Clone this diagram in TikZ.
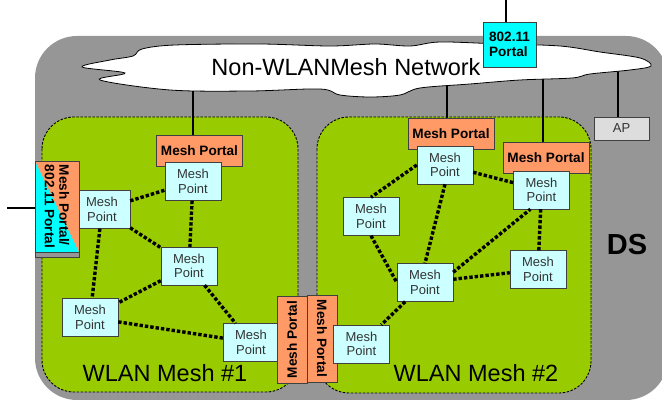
\documentclass[tikz,border=0pt]{standalone}
\usepackage{fontspec}
\setmainfont{Liberation Sans}

\definecolor{dsgray}{HTML}{969696}
\definecolor{meshgreen}{HTML}{99CC00}
\definecolor{portalorange}{HTML}{FF9966}
\definecolor{pointcyan}{HTML}{CCFFFF}
\definecolor{wificyan}{HTML}{00FFFF}
\definecolor{apgray}{HTML}{DDDDDD}

\newcommand{\boxfont}{\fontsize{13}{14.5}\selectfont}
\newcommand{\portfont}{\fontsize{13.6}{14.5}\selectfont\bfseries}

\begin{document}
\begin{tikzpicture}[x=1pt, y=-1pt,
	meshpoint/.style={draw=black!75, fill=pointcyan, minimum width=56pt, minimum height=38pt, inner sep=0pt, align=center, font=\boxfont, text=black!80},
	meshportal/.style={draw=black!75, fill=portalorange, minimum width=86pt, minimum height=31pt, inner sep=0pt, font=\portfont},
	meshlink/.style={line width=3.4pt, dash pattern=on 3.4pt off 2pt},
	uplink/.style={line width=1.4pt},
	meshzone/.style={fill=meshgreen, draw=black, line width=0.9pt, dash pattern=on 2.5pt off 1.5pt, rounded corners=32pt}]

		\useasboundingbox (0,0) rectangle (662,403);
		\clip (0,0) rectangle (662,403);

		% Draw the DS box
		\fill[dsgray, rounded corners=42pt] (35,36) rectangle (668,400);
		\node[font=\fontsize{29}{29}\selectfont\bfseries] (ds) at (627,245) {DS};

		% Draw the two mesh areas
		\draw[meshzone] (42,117) rectangle (298,392);
		\draw[meshzone] (317,117) rectangle (591,393);
		\node[font=\fontsize{23.5}{24}\selectfont] (zone1) at (165,373) {WLAN Mesh \#1};
		\node[font=\fontsize{23.5}{24}\selectfont] (zone2) at (476,373) {WLAN Mesh \#2};

		% Draw the portals hanging from the cloud
		\node[meshportal] (portA) at (199.5,151) {Mesh Portal};
		\node[meshportal] (portB) at (451,133.5) {Mesh Portal};
		\node[meshportal] (portC) at (546,158) {Mesh Portal};

		% Draw the mesh points of mesh #1
		\node[meshpoint] (mpA) at (193,181.5) {Mesh\\Point};
		\node[meshpoint] (mpB) at (102,209.5) {Mesh\\Point};
		\node[meshpoint] (mpC) at (189,266) {Mesh\\Point};
		\node[meshpoint] (mpD) at (90,317.5) {Mesh\\Point};
		\node[meshpoint] (mpE) at (251,342.5) {Mesh\\Point};

		% Draw the left portal to the 802.11 side
		\node[draw=black!75, fill=wificyan, minimum width=44pt, minimum height=91pt, inner sep=0pt,
			path picture={\fill[portalorange] (path picture bounding box.north west) -- (path picture bounding box.north east) -- (path picture bounding box.south east) -- cycle;}] (portL) at (57,206.5) {};
		\node[draw=black!75, fill=dsgray, minimum width=44pt, minimum height=5pt, inner sep=0pt] (portLbase) at (57,254.5) {};
		\node[rotate=-90, align=left, font=\portfont] (portLtext) at (portL) {Mesh Portal/\\802.11 Portal};
		\coordinate (wire) at (7,208);
		\draw[uplink] (wire) -- (wire -| portL.west);

		% Draw the two portals between the meshes
		\node[meshportal, rotate=90, minimum width=87pt, minimum height=30pt] (portD) at (292,339.5) {Mesh Portal};
		\node[meshportal, rotate=-90, minimum width=87pt, minimum height=30pt] (portE) at (322,338.5) {Mesh Portal};

		% Draw the mesh points of mesh #2
		\node[meshpoint] (mpF) at (361.5,344) {Mesh\\Point};
		\node[meshpoint] (mpG) at (425,282.5) {Mesh\\Point};
		\node[meshpoint] (mpH) at (538,269.5) {Mesh\\Point};
		\node[meshpoint] (mpI) at (371,216.5) {Mesh\\Point};
		\node[meshpoint] (mpJ) at (445,165) {Mesh\\Point};
		\node[meshpoint] (mpK) at (541.5,190) {Mesh\\Point};

		% Draw the mesh links
		\draw[meshlink] (mpB) -- (mpA);
		\draw[meshlink] (mpA) -- (mpC);
		\draw[meshlink] (mpB) -- (mpC);
		\draw[meshlink] (mpB) -- (mpD);
		\draw[meshlink] (mpC) -- (mpD);
		\draw[meshlink] (mpC) -- (mpE);
		\draw[meshlink] (mpD) -- (mpE);

		\draw[meshlink] (mpJ.west) -- (mpI.north);
		\draw[meshlink] (mpJ) -- (mpK);
		\draw[meshlink] (mpJ.south) -- (mpG.north);
		\draw[meshlink] (mpI.south) -- (mpG.west);
		\draw[meshlink] (mpG.20) -- (mpK.240);
		\draw[meshlink] (mpK) -- (mpH);
		\draw[meshlink] (mpG) -- (mpH);
		\draw[meshlink] (mpG) -- (mpF);

		% Draw the AP
		\node[draw=black!75, fill=apgray, minimum width=55pt, minimum height=23pt, inner sep=0pt, font=\boxfont, text=black!80] (ap) at (621.5,128.5) {AP};

		% Draw the wires up into the cloud
		\coordinate (cA) at (193,75);
		\coordinate (cB) at (447,75);
		\coordinate (cC) at (543,70);
		\coordinate (cAP) at (618,65);
		\draw[uplink] (cA) -- (cA |- portA.north);
		\draw[uplink] (cB) -- (cB |- portB.north);
		\draw[uplink] (cC) -- (cC |- portC.north);
		\draw[uplink] (cAP) -- (cAP |- ap.north);

		% Draw the cloud
		\draw[fill=white, line width=0.8pt] plot[smooth cycle, tension=0.55] coordinates {
			(82,67) (110,60) (133,56) (142,49) (175,45) (260,44) (330,46) (375,44)
			(410,46) (440,42) (500,44) (560,46) (600,52) (640,58) (651,66) (630,70)
			(590,74) (572,78) (520,80) (470,84) (420,88) (400,95) (370,97) (340,95)
			(320,89) (250,91) (170,90) (100,80) (125,73)};
		\node[font=\fontsize{23.5}{24}\selectfont] (cloudlbl) at (346,67) {Non-WLANMesh Network};

		% Draw the 802.11 portal on the cloud
		\node[draw=black!75, fill=wificyan, minimum width=53pt, minimum height=45pt, inner sep=0pt, align=left, font=\portfont] (port80211) at (509.5,44.5) {802.11\\Portal};
		\coordinate (top) at (506,0);
		\draw[uplink] (top) -- (top |- port80211.north);

	\end{tikzpicture}
\end{document}
